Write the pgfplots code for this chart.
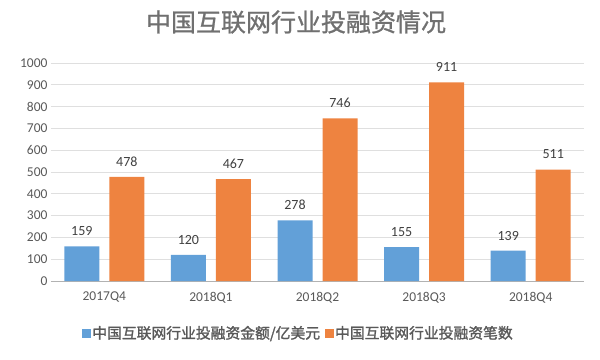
\documentclass[border=0pt]{standalone}
\usepackage{pgfplots}
\pgfplotsset{compat=1.18}
\usepackage{fontspec}
\setmainfont{Carlito}
\newfontfamily\cjk{Noto Sans CJK SC}
\newfontfamily\cjkmed[FakeBold=1.0]{Noto Sans CJK SC}
\newfontfamily\cjkleg[FakeBold=1.5]{Noto Sans CJK SC}
\definecolor{cblue}{HTML}{62A0D8}
\definecolor{corange}{HTML}{EE8340}
\definecolor{tgray}{HTML}{595959}
\definecolor{ttl}{HTML}{707070}
\definecolor{lgray}{HTML}{404040}
\begin{document}
\begin{tikzpicture}[x=1pt,y=1pt]
\path[use as bounding box] (0,0) rectangle (600,359);
\node[font=\cjkmed\fontsize{25}{29}\selectfont, text=ttl] at (296,337) {中国互联网行业投融资情况};
\begin{axis}[
 at={(51pt,78pt)}, anchor=south west,
 scale only axis, width=533pt, height=218pt,
 ybar=10pt, bar width=35pt,
 xmin=-0.5, xmax=4.5, ymin=0, ymax=1000,
 ytick={0,100,...,1000},
 xtick={0,1,2,3,4},
 xticklabels={2017Q4,2018Q1,2018Q2,2018Q3,2018Q4},
 axis x line*=bottom, axis y line*=left,
 y axis line style={draw=none},
 x axis line style={draw=gray!60, line width=0.8pt},
 tick style={draw=none},
 ymajorgrids, grid style={gray!25, line width=0.6pt},
 tick label style={font=\fontsize{13.5}{15}\selectfont, text=tgray},
 /pgf/number format/assume math mode=true,
 /pgf/number format/1000 sep={},
 xticklabel style={yshift=-3pt},
 nodes near coords,
 every node near coord/.append style={font=\fontsize{14}{16}\selectfont, text=lgray, yshift=7pt},
 legend style={at={(298pt-51pt,26pt-78pt)}, anchor=center, draw=none, fill=none,
   font=\cjkleg\fontsize{14.8}{17}\selectfont, text=tgray, legend columns=2,
   /tikz/every even column/.append style={column sep=3pt},
   inner sep=0pt, nodes={inner sep=1.5pt}},
 legend image code/.code={\fill[#1] (1pt,-4.5pt) rectangle (10pt,4.5pt);},
]
\addplot[fill=cblue, draw=none] coordinates {(0,159) (1,120) (2,278) (3,155) (4,139)};
\addplot[fill=corange, draw=none] coordinates {(0,478) (1,467) (2,746) (3,911) (4,511)};
\legend{中国互联网行业投融资金额/亿美元, 中国互联网行业投融资笔数}
\end{axis}
\end{tikzpicture}
\end{document}
